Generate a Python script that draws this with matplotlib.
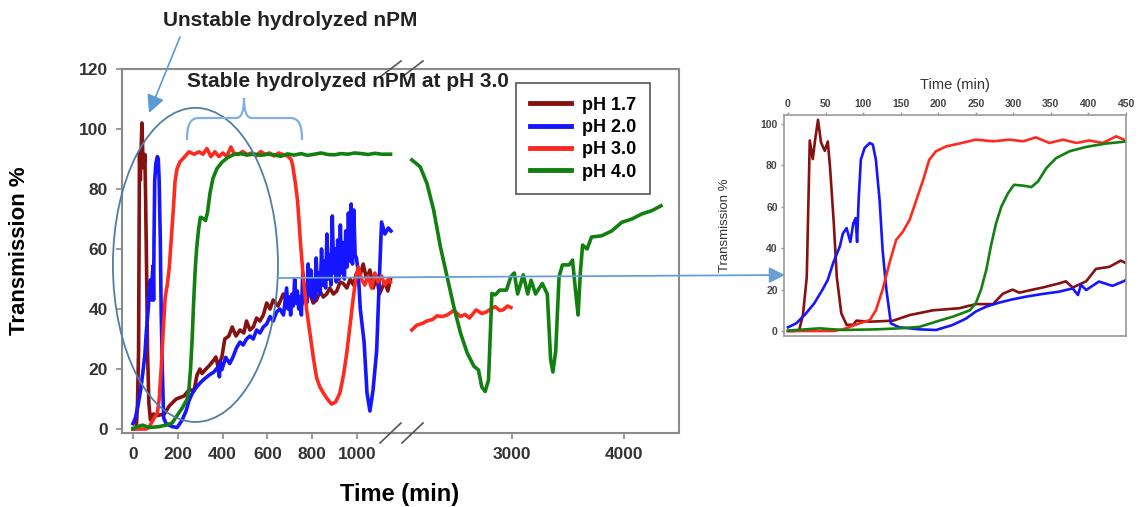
"""
    Transmission of hydrolyzed nPM vs time, broken axis plus zoomed inset
"""

import matplotlib.pyplot as plt
from matplotlib.patches import Ellipse, FancyArrowPatch, PathPatch
from matplotlib.path import Path
from matplotlib.lines import Line2D

plt.rcParams['font.family'] = ['Liberation Sans', 'DejaVu Sans']
plt.rcParams['font.weight'] = 'bold'

# ---- data, first segment (0 - 1150 min) ----
t17 = [0, 8, 15, 20, 25, 29, 33, 36, 40, 44, 49, 53, 56, 61, 65, 71, 78, 87, 91, 109,
       140, 162, 193, 228, 250, 273, 286, 299, 308, 326, 339, 361, 370, 379, 397, 410, 428, 443, 460, 478,
       495, 507, 522, 537, 552, 567, 582, 597, 612, 626, 648, 671, 690, 710, 731, 750, 770, 790, 805, 820,
       835, 850, 865, 879, 895, 910, 925, 939, 955, 970, 985, 998, 1013, 1028, 1043, 1058, 1073, 1088, 1100, 1112,
       1125, 1138, 1150]
y17 = [0, 0, 0.5, 8, 26, 92, 83, 92, 102, 91, 87, 91.5, 79, 52, 26, 8.5, 3, 3, 5, 4.5,
       5, 7.7, 10, 11, 13, 13, 18, 20, 18.5, 20, 21, 23, 24, 21, 24, 30, 31, 34, 31, 33,
       32, 36, 33, 34, 37, 36, 38, 42, 40, 43, 41, 45, 42, 44, 43, 41, 44, 45, 42, 43,
       46, 44, 45, 47, 45, 46, 49, 48.5, 47, 50, 48, 52, 51, 55, 50, 53, 47, 51, 45, 47,
       49, 46, 50]

t20 = [0, 11, 24, 35, 46, 53, 60, 69, 73, 78, 83, 87, 90, 92, 94, 97, 102, 109, 113, 117,
       122, 126, 131, 137, 148, 175, 197, 219, 237, 250, 264, 281, 299, 317, 339, 361, 379, 386, 390, 397,
       414, 432, 446, 462, 478, 492, 507, 522, 537, 552, 567, 582, 597, 612, 626, 641, 656, 672,
       686, 692, 698, 704, 710, 716, 722, 728, 734, 740, 746, 752, 758, 764, 770, 776, 782, 788,
       794, 800, 806, 812, 818, 824, 830, 836, 842, 848, 854, 860, 866, 872, 878, 884, 890, 896,
       902, 908, 914, 920, 926, 932, 938, 944, 950, 956, 962, 968, 974, 980, 986, 992, 998,
       1006, 1015, 1032, 1045, 1058, 1072, 1088, 1100, 1110, 1125, 1140, 1152]
y20 = [1.8, 3.7, 8.5, 13.4, 20, 24.7, 32.7, 40.8, 47, 49.7, 43, 52, 54.5, 43, 63, 82.7, 88.4, 90.8, 90, 82.7,
       63, 39, 20, 3.7, 1.8, 0.8, 0.5, 2.9, 6, 9.4, 11.8, 13.7, 15.3, 16.6, 17.9, 19, 20.6, 17.4, 22.3, 19.8,
       23.9, 21.8, 23.9, 27, 29, 28, 30, 31, 30, 33, 32, 34, 35, 37.5, 36, 39, 40, 38,
       47, 40, 44, 38, 45, 41, 50, 42, 46, 40, 44, 38, 52, 43, 48, 42, 55, 45,
       53, 44, 50, 43, 57, 46, 52, 45, 60, 48, 56, 47, 65, 50, 58, 48, 71, 52,
       60, 49, 63, 50, 68, 52, 62, 50, 66, 54, 72, 56, 75, 55, 73, 58, 57,
       52, 40, 29, 12, 6, 13, 26, 50, 69, 65, 67, 66]

t30 = [0, 30, 60, 73, 95, 109, 117, 126, 135, 144, 153, 162, 171, 180, 188, 197, 211, 228, 250, 273,
       295, 313, 330, 348, 366, 384, 401, 419, 437, 450, 470, 490, 510, 530, 550, 570, 590, 610, 630, 650,
       670, 690, 705, 713, 725, 735, 748, 760, 775, 790, 805, 820, 835, 850, 868, 887, 905, 924, 940, 954,
       970, 984, 995, 1006, 1020, 1035, 1050, 1065, 1080, 1095, 1110, 1125, 1140, 1150]
y30 = [0, 0, 0, 0.8, 3.7, 5.3, 10, 20, 32.7, 44, 48, 53.7, 63.4, 73, 82.7, 86.8, 89.2, 90.5, 92.4, 91.6,
       92.4, 91.6, 93.5, 90.8, 92.4, 90.8, 92, 90.8, 94, 92, 91.5, 92.5, 91.5, 92, 91, 92.5, 91.5, 92, 91, 92,
       91.5, 91, 90, 88, 82, 76, 62, 51, 40, 32, 24, 17, 14, 12, 10, 8.3, 9, 12, 18, 25,
       35, 44, 50, 54, 50, 48, 51, 47, 52, 49, 51, 48, 50, 49]

t40 = [0, 42, 73, 117, 148, 175, 197, 220, 242, 250, 257, 264, 270, 277, 284, 293, 301, 313, 324, 333,
       344, 357, 375, 397, 423, 450, 480, 510, 540, 570, 600, 630, 660, 690, 720, 750, 780, 810, 840, 870,
       900, 930, 960, 990, 1020, 1050, 1080, 1110, 1150]
y40 = [0.2, 1.3, 0.5, 0.8, 1.3, 2, 4.5, 7, 10, 13.4, 20, 29.5, 40.8, 52, 60, 66.6, 70.6, 70.2, 69.5, 72.3,
       78.7, 83.5, 86.8, 88.9, 90.5, 91.5, 91.8, 91.3, 91.7, 91.2, 91.6, 91.4, 90.9, 91.7, 91.3, 91.8, 91.2, 91.6, 92, 91.5,
       91.4, 91.8, 91.6, 92, 91.8, 91.5, 91.9, 91.6, 91.6]

# ---- data, second segment (after the axis break) ----
t30b = [2105, 2150, 2200, 2240, 2290, 2330, 2380, 2420, 2480, 2540, 2580, 2620, 2680, 2730, 2770, 2810,
        2850, 2890, 2920, 2960, 2990]
y30b = [33, 34.6, 35.2, 36, 36.5, 37.7, 37.5, 38, 39.5, 37.5, 38.2, 37, 39.7, 38.5, 39, 40,
        40.8, 39.5, 39.7, 41, 40.5]

t40b = [2105, 2180, 2240, 2300, 2360, 2420, 2480, 2540, 2600, 2660, 2700, 2730, 2760, 2790, 2820, 2850,
        2890, 2950, 2990, 3020, 3050, 3100, 3140, 3170, 3210, 3270, 3315, 3345, 3365, 3390, 3420, 3450,
        3510, 3540, 3570, 3590, 3610, 3630, 3670, 3710, 3800, 3890, 3980, 4070, 4160, 4250, 4330]
y40b = [89.7, 87.4, 81.9, 73, 60.8, 50.8, 40.8, 32, 25.3, 20.9, 19.7, 14, 12.5, 16.3, 45.2, 44.7,
        46.3, 46.3, 50.8, 52, 45, 51.4, 45, 49.6, 45, 48.5, 45, 23, 19, 26, 50.8, 54.7,
        54.7, 56.3, 45, 38, 52, 61.3, 60, 64, 64.4, 66, 68.9, 70, 71.7, 72.8, 74.4]

labels = ['pH 1.7', 'pH 2.0', 'pH 3.0', 'pH 4.0']
colors = ['#861111', '#1515ff', '#ff2a1f', '#118011']

W, H = 1138, 507


def fx(px):
    return px / W


def fy(py):
    return 1 - py / H


fig = plt.figure(figsize=(11.38, 5.07), dpi=100)

ax1 = fig.add_axes([fx(122), fy(433), fx(395) - fx(122), fy(69) - fy(433)])
ax2 = fig.add_axes([fx(395), fy(433), fx(679) - fx(395), fy(69) - fy(433)])
ins = fig.add_axes([fx(784), fy(336), fx(1126) - fx(784), fy(115) - fy(336)])

first = [(t17, y17), (t20, y20), (t30, y30), (t40, y40)]
handles = []
for (t, y), c, lab in zip(first, colors, labels):
    h, = ax1.plot(t, y, color=c, lw=2.6, label=lab, solid_joinstyle='round')
    handles.append(h)
    ins.plot(t, y, color=c, lw=1.9, solid_joinstyle='round')

ax2.plot(t30b, y30b, color=colors[2], lw=2.6, solid_joinstyle='round')
ax2.plot(t40b, y40b, color=colors[3], lw=2.6, solid_joinstyle='round')

spine_c = '#8a8a8a'
for ax in (ax1, ax2):
    ax.set_ylim(-1.33, 120)
    for s in ax.spines.values():
        s.set_color(spine_c)
        s.set_linewidth(1.5)
    ax.tick_params(direction='out', length=4, width=1.2, color=spine_c,
                   labelsize=12.5, labelcolor='#333333', pad=6)
ax1.spines['right'].set_visible(False)
ax2.spines['left'].set_visible(False)
ax2.tick_params(left=False, labelleft=False)

ax1.set_xlim(-49, 1170)
ax2.set_xlim(1955, 4491)
ax1.set_xticks(range(0, 1001, 200))
ax1.set_yticks(range(0, 121, 20))
ax2.set_xticks([3000, 4000])

# break marks on both spines
for sy, half in ((433, 10), (69, 8)):
    for x0 in (380, 402):
        fig.add_artist(Line2D([fx(x0), fx(x0 + 21)], [fy(sy + half), fy(sy - half)],
                              transform=fig.transFigure, color='#555555', lw=1.2))

fig.text(fx(20), fy(251), 'Transmission %', rotation=90, ha='center', va='center', fontsize=16)
fig.text(fx(400), fy(494), 'Time (min)', ha='center', va='center', fontsize=17)

# legend
leg = fig.legend(handles, labels, loc='upper left', bbox_to_anchor=(fx(516), fy(83)),
                 bbox_transform=fig.transFigure, fancybox=False, framealpha=1, edgecolor='#555555',
                 fontsize=13, handlelength=2.3, handletextpad=0.6, labelspacing=0.3,
                 borderpad=0.75, borderaxespad=0)
leg.get_frame().set_linewidth(1.2)
for ln in leg.get_lines():
    ln.set_linewidth(3.5)

# annotations
ax1.add_patch(Ellipse((279, 54.7), 737, 104.7, fill=False, ec='#4f7ea6', lw=1.3,
                      clip_on=False, zorder=5))

fig.text(fx(290), fy(21), 'Unstable hydrolyzed nPM', ha='center', va='center',
         fontsize=15, color='#222222')
fig.text(fx(187), fy(82), 'Stable hydrolyzed nPM at pH 3.0', ha='left', va='center',
         fontsize=15, color='#222222')

fig.add_artist(FancyArrowPatch((fx(180), fy(37)), (fx(149), fy(113)), transform=fig.transFigure,
                               arrowstyle='-|>,head_length=0.9,head_width=0.45', mutation_scale=12,
                               color='#5b9bd5', lw=1.2, shrinkA=0, shrinkB=0))
fig.add_artist(FancyArrowPatch((fx(278), fy(278)), (fx(785), fy(275)), transform=fig.transFigure,
                               arrowstyle='-|>,head_length=0.8,head_width=0.4', mutation_scale=12,
                               color='#6a9fd4', lw=1.3, shrinkA=0, shrinkB=0))

brace_px = [(187, 140), (187, 125), (190, 118), (199, 118), (236, 118),
            (242, 118), (244, 110), (244, 98), (244, 110), (246, 118), (252, 118),
            (290, 118), (299, 118), (302, 125), (302, 140)]
codes = [Path.MOVETO, Path.CURVE4, Path.CURVE4, Path.CURVE4, Path.LINETO,
         Path.CURVE4, Path.CURVE4, Path.CURVE4, Path.CURVE4, Path.CURVE4, Path.CURVE4,
         Path.LINETO, Path.CURVE4, Path.CURVE4, Path.CURVE4]
brace = Path([(fx(x), fy(y)) for x, y in brace_px], codes)
fig.add_artist(PathPatch(brace, transform=fig.transFigure, fill=False, ec='#7fb0e0', lw=1.6))

# inset
ins.set_xlim(-5.3, 450)
ins.set_ylim(-2.4, 104.3)
ins.xaxis.tick_top()
ins.xaxis.set_label_position('top')
ins.set_xticks(range(0, 451, 50))
ins.set_yticks(range(0, 101, 20))
for s in ins.spines.values():
    s.set_color('#9a9a9a')
    s.set_linewidth(1.2)
ins.tick_params(direction='out', length=2.5, width=1, color='#9a9a9a',
                labelsize=7.5, labelcolor='#444444', pad=2)
ins.set_xlabel('Time (min)', fontsize=10.5, labelpad=7, color='#333333')
ins.set_ylabel('Transmission %', fontsize=9.5, labelpad=21, color='#333333')

fig.savefig('out.png', dpi=100)
